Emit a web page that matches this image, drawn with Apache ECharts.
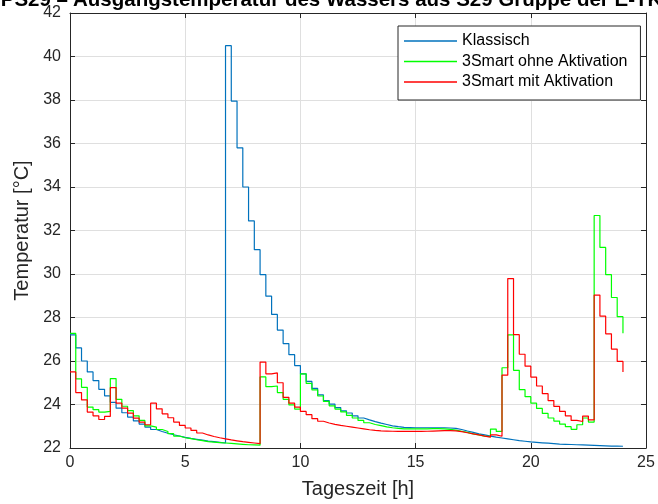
<!DOCTYPE html>
<html>
<head>
<meta charset="utf-8">
<script src="https://cdn.jsdelivr.net/npm/echarts@6/dist/echarts.min.js"></script>
<style>
html,body{margin:0;padding:0;background:#fff;}
#chart{width:658px;height:504px;}
</style>
</head>
<body>
<div id="chart"></div>
<script>
// Quarter-hour step (h) between samples; samples run from 0 h to 24 h
const stepHours = 0.25;

const seriesNames = ["Klassisch", "3Smart ohne Aktivation", "3Smart mit Aktivation"];

const klassisch = [
  27.2, 26.6, 26.0, 25.5, 25.1, 24.7, 24.4, 24.1, 23.83, 23.62, 23.42, 23.25, 23.1, 22.96, 22.85, 22.76,
  22.68, 22.61, 22.55, 22.49, 22.44, 22.4, 22.36, 22.32, 22.29, 22.26, 22.23, 40.5, 37.95, 35.8, 34.0, 32.44,
  31.12, 29.97, 28.98, 28.14, 27.42, 26.8, 26.29, 25.79, 25.41, 25.06, 24.74, 24.44, 24.18, 24.02, 23.86, 23.71,
  23.61, 23.48, 23.38, 23.29, 23.21, 23.14, 23.08, 23.02, 22.98, 22.95, 22.94, 22.93, 22.93, 22.93, 22.93, 22.93,
  22.93, 22.92, 22.9, 22.85, 22.78, 22.72, 22.65, 22.6, 22.55, 22.5, 22.46, 22.42, 22.38, 22.34, 22.31, 22.28,
  22.26, 22.24, 22.22, 22.2, 22.18, 22.17, 22.16, 22.15, 22.14, 22.13, 22.12, 22.11, 22.1, 22.09, 22.09, 22.08,
  22.08
];

const ohneAktivation = [
  27.27, 25.18, 24.79, 23.88, 23.76, 23.65, 23.68, 25.19, 24.24, 23.92, 23.72, 23.48, 23.27, 23.02, 22.96, 22.85,
  22.76, 22.66, 22.55, 22.47, 22.43, 22.38, 22.34, 22.29, 22.27, 22.25, 22.23, 22.21, 22.19, 22.17, 22.15, 22.14,
  22.13, 25.27, 24.82, 24.85, 24.55, 24.24, 23.98, 23.79, 25.41, 24.97, 24.67, 24.39, 24.14, 23.94, 23.79, 23.66,
  23.5, 23.38, 23.27, 23.16, 23.08, 23.03, 22.97, 22.93, 22.9, 22.88, 22.88, 22.88, 22.88, 22.88, 22.89, 22.89,
  22.88, 22.86, 22.82, 22.77, 22.72, 22.65, 22.6, 22.55, 22.52, 22.87, 22.76, 25.69, 27.2, 25.57, 24.68, 24.36,
  24.06, 23.82, 23.59, 23.38, 23.24, 23.1, 22.98, 22.86, 23.07, 23.38, 23.19, 32.69, 31.22, 29.97, 28.92, 28.04,
  27.28
];

const mitAktivation = [
  25.5, 24.55, 24.21, 23.65, 23.48, 23.31, 23.45, 24.78, 24.06, 23.83, 23.6, 23.37, 23.19, 23.07, 24.06, 23.8,
  23.57, 23.39, 23.19, 23.04, 22.92, 22.81, 22.69, 22.6, 22.53, 22.47, 22.42, 22.37, 22.33, 22.29, 22.26, 22.23,
  22.2, 25.95, 25.41, 25.45, 25.0, 24.33, 24.06, 23.88, 23.68, 23.53, 23.35, 23.23, 23.15, 23.09, 23.04, 23.0,
  22.96, 22.92, 22.88, 22.84, 22.81, 22.79, 22.78, 22.77, 22.76, 22.76, 22.76, 22.76, 22.76, 22.77, 22.78, 22.79,
  22.8, 22.8, 22.79, 22.75, 22.7, 22.65, 22.6, 22.55, 22.5, 22.6, 22.54, 25.35, 29.79, 27.21, 26.31, 25.76,
  25.26, 24.85, 24.5, 24.18, 23.91, 23.68, 23.48, 23.27, 23.22, 23.47, 23.29, 29.03, 28.06, 27.25, 26.55, 25.98,
  25.5
];

const xTicks = [0, 5, 10, 15, 20, 25];
const yTicks = [22, 24, 26, 28, 30, 32, 34, 36, 38, 40, 42];

const titleLeft = "Neu. PS29 \u2013";
const titleRight = "Ausgangstemperatur des Wassers aus S29 Gruppe der E-TK";
const xName = "Tageszeit [h]";
const yName = "Temperatur [\u00B0C]";

const colors = ["#0072BD", "#00FF00", "#FF0000"];
const FONT = "'Liberation Sans', Arial, Helvetica, sans-serif";
const AXIS_COLOR = "#262626";
const GRID_COLOR = "#dfdfdf";

function pairs(values) {
  return values.map((v, i) => [i * stepHours, v]);
}

const chart = echarts.init(document.getElementById('chart'), null, {renderer: 'canvas'});

const xMin = xTicks[0], xMax = xTicks[xTicks.length - 1], xInt = xTicks[1] - xTicks[0];
const yMin = yTicks[0], yMax = yTicks[yTicks.length - 1], yInt = yTicks[1] - yTicks[0];

const baseX = {
  type: 'value', min: xMin, max: xMax, interval: xInt,
  axisLine: {show: true, onZero: false, lineStyle: {color: AXIS_COLOR, width: 1}},
  axisTick: {show: true, inside: true, length: 5, lineStyle: {color: AXIS_COLOR}},
};
const baseY = {
  type: 'value', min: yMin, max: yMax, interval: yInt,
  axisLine: {show: true, onZero: false, lineStyle: {color: AXIS_COLOR, width: 1}},
  axisTick: {show: true, inside: true, length: 5, lineStyle: {color: AXIS_COLOR}},
};

const option = {
  animation: false,
  backgroundColor: '#ffffff',
  color: colors,
  textStyle: {fontFamily: FONT},
  grid: {left: 70, right: 12, top: 13, bottom: 54, containLabel: false},
  graphic: [
    {type: 'text', x: 68, y: 11, style: {text: titleLeft, font: "bold 20.5px " + FONT, fill: '#000', align: 'right', verticalAlign: 'bottom'}},
    {type: 'text', x: 73, y: 11, style: {text: titleRight, font: "bold 20.5px " + FONT, fill: '#000', align: 'left', verticalAlign: 'bottom'}}
  ],
  legend: {
    show: true,
    orient: 'vertical',
    left: 398, top: 26,
    data: seriesNames.map((n, i) => ({name: n, icon: 'rect', itemStyle: {color: colors[i]}})),
    itemWidth: 53, itemHeight: 1.5, itemGap: 4.5,
    padding: [7, 13, 10, 6],
    backgroundColor: '#ffffff',
    borderColor: AXIS_COLOR, borderWidth: 1, borderRadius: 0,
    textStyle: {fontSize: 16, color: '#000', fontFamily: FONT},
    selectedMode: false
  },
  xAxis: [
    Object.assign({}, baseX, {
      position: 'bottom',
      axisLabel: {show: true, fontSize: 16, color: AXIS_COLOR, margin: 7, fontFamily: FONT},
      splitLine: {show: true, lineStyle: {color: GRID_COLOR, width: 1}},
      name: xName, nameLocation: 'middle', nameGap: 31,
      nameTextStyle: {fontSize: 20, color: AXIS_COLOR, fontFamily: FONT}
    }),
    Object.assign({}, baseX, {
      position: 'top',
      axisLabel: {show: false},
      splitLine: {show: false}
    })
  ],
  yAxis: [
    Object.assign({}, baseY, {
      position: 'left',
      axisLabel: {show: true, fontSize: 16, color: AXIS_COLOR, margin: 9, fontFamily: FONT},
      splitLine: {show: true, lineStyle: {color: GRID_COLOR, width: 1}},
      name: yName, nameLocation: 'middle', nameGap: 33, nameRotate: 90,
      nameTextStyle: {fontSize: 20, color: AXIS_COLOR, fontFamily: FONT}
    }),
    Object.assign({}, baseY, {
      position: 'right',
      axisLabel: {show: false},
      splitLine: {show: false}
    })
  ],
  series: [
    {name: seriesNames[0], type: 'line', step: 'end', symbol: 'none', data: pairs(klassisch),
     lineStyle: {width: 1.2, color: colors[0]}, itemStyle: {color: colors[0]}, z: 2},
    {name: seriesNames[1], type: 'line', step: 'end', symbol: 'none', data: pairs(ohneAktivation),
     lineStyle: {width: 1.2, color: colors[1]}, itemStyle: {color: colors[1]}, z: 3},
    {name: seriesNames[2], type: 'line', step: 'end', symbol: 'none', data: pairs(mitAktivation),
     lineStyle: {width: 1.2, color: colors[2]}, itemStyle: {color: colors[2]}, z: 4}
  ]
};

chart.setOption(option);
</script>
</body>
</html>
